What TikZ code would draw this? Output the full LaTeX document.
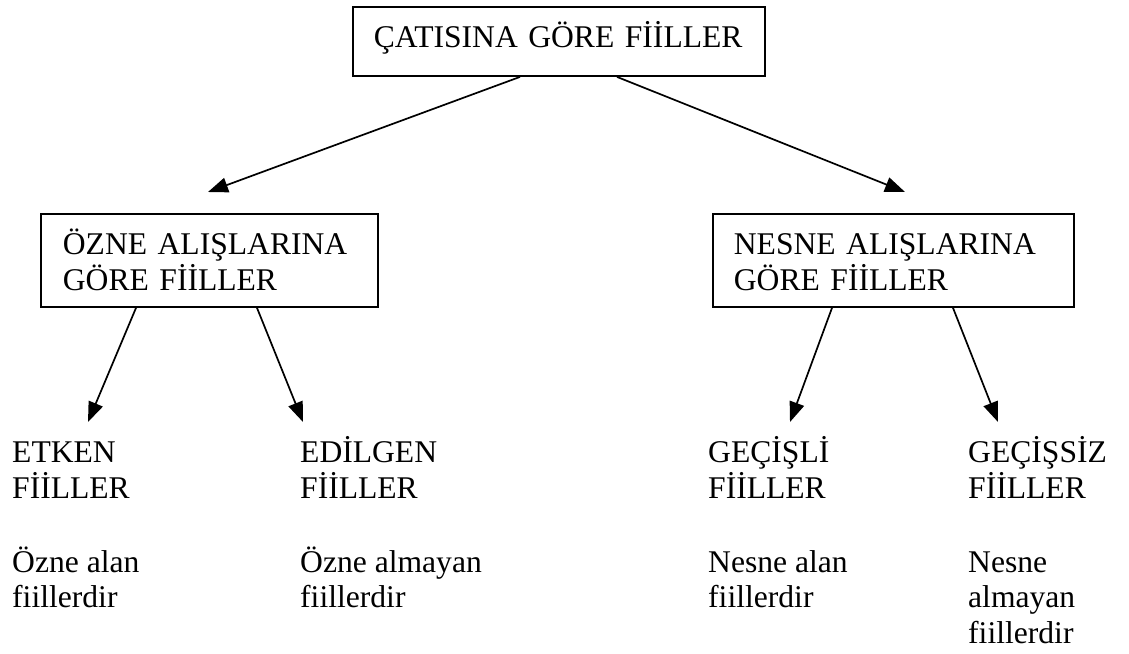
\documentclass[tikz,border=0pt]{standalone}
\usepackage{fontspec}
\setmainfont{Liberation Serif}
\usetikzlibrary{arrows.meta}
\begin{document}
\begin{tikzpicture}[x=1pt,y=-1pt,
  txt/.style={font=\fontsize{31.6}{35.8}\selectfont, inner sep=0pt, anchor=base west, align=left},
  box/.style={draw, line width=1.8pt, font=\fontsize{31.6}{35.8}\selectfont, inner ysep=0pt, anchor=base west, align=left},
  conn/.style={line width=1.7pt, -{Triangle[length=20pt,width=15pt]}}]
\useasboundingbox (0,0) rectangle (1129,653);
% top box
\node[box, inner xsep=21pt, text width=370pt, text height=40pt, text depth=29pt] (top) at (352,47) {ÇATISINA GÖRE FİİLLER};
% second level boxes
\node[box, inner xsep=22pt, text width=293pt, text height=40pt, text depth=53pt] (lbox) at (40,254)
  {\begin{tabular}[t]{@{}l@{}}ÖZNE ALIŞLARINA\\GÖRE FİİLLER\end{tabular}};
\node[box, inner xsep=21pt, text width=319pt, text height=40pt, text depth=53pt] (rbox) at (712,254)
  {\begin{tabular}[t]{@{}l@{}}NESNE ALIŞLARINA\\GÖRE FİİLLER\end{tabular}};
% leaves
\node[txt] (etken) at (12,462) {\begin{tabular}[t]{@{}l@{}}ETKEN\\FİİLLER\end{tabular}};
\node[txt] (edilgen) at (300,462) {\begin{tabular}[t]{@{}l@{}}EDİLGEN\\FİİLLER\end{tabular}};
\node[txt] (gecisli) at (708,462) {\begin{tabular}[t]{@{}l@{}}GEÇİŞLİ\\FİİLLER\end{tabular}};
\node[txt] (gecissiz) at (968,462) {\begin{tabular}[t]{@{}l@{}}GEÇİŞSİZ\\FİİLLER\end{tabular}};
\node[txt] (d1) at (12,572) {\begin{tabular}[t]{@{}l@{}}Özne alan\\fiillerdir\end{tabular}};
\node[txt] (d2) at (300,572) {\begin{tabular}[t]{@{}l@{}}Özne almayan\\fiillerdir\end{tabular}};
\node[txt] (d3) at (708,572) {\begin{tabular}[t]{@{}l@{}}Nesne alan\\fiillerdir\end{tabular}};
\node[txt] (d4) at (968,572) {\begin{tabular}[t]{@{}l@{}}Nesne\\almayan\\fiillerdir\end{tabular}};
% arrow tips
\coordinate (tl) at (208,192);
\coordinate (tr) at (905,192);
\coordinate (t1) at (88,422);
\coordinate (t2) at (303,422);
\coordinate (t3) at (790,422);
\coordinate (t4) at (998,422);
% connectors
\draw[conn] ([xshift=168pt]top.south west) -- (tl);
\draw[conn] ([xshift=265pt]top.south west) -- (tr);
\draw[conn] ([xshift=96pt]lbox.south west) -- (t1);
\draw[conn] ([xshift=217pt]lbox.south west) -- (t2);
\draw[conn] ([xshift=120pt]rbox.south west) -- (t3);
\draw[conn] ([xshift=241pt]rbox.south west) -- (t4);
\end{tikzpicture}
\end{document}
